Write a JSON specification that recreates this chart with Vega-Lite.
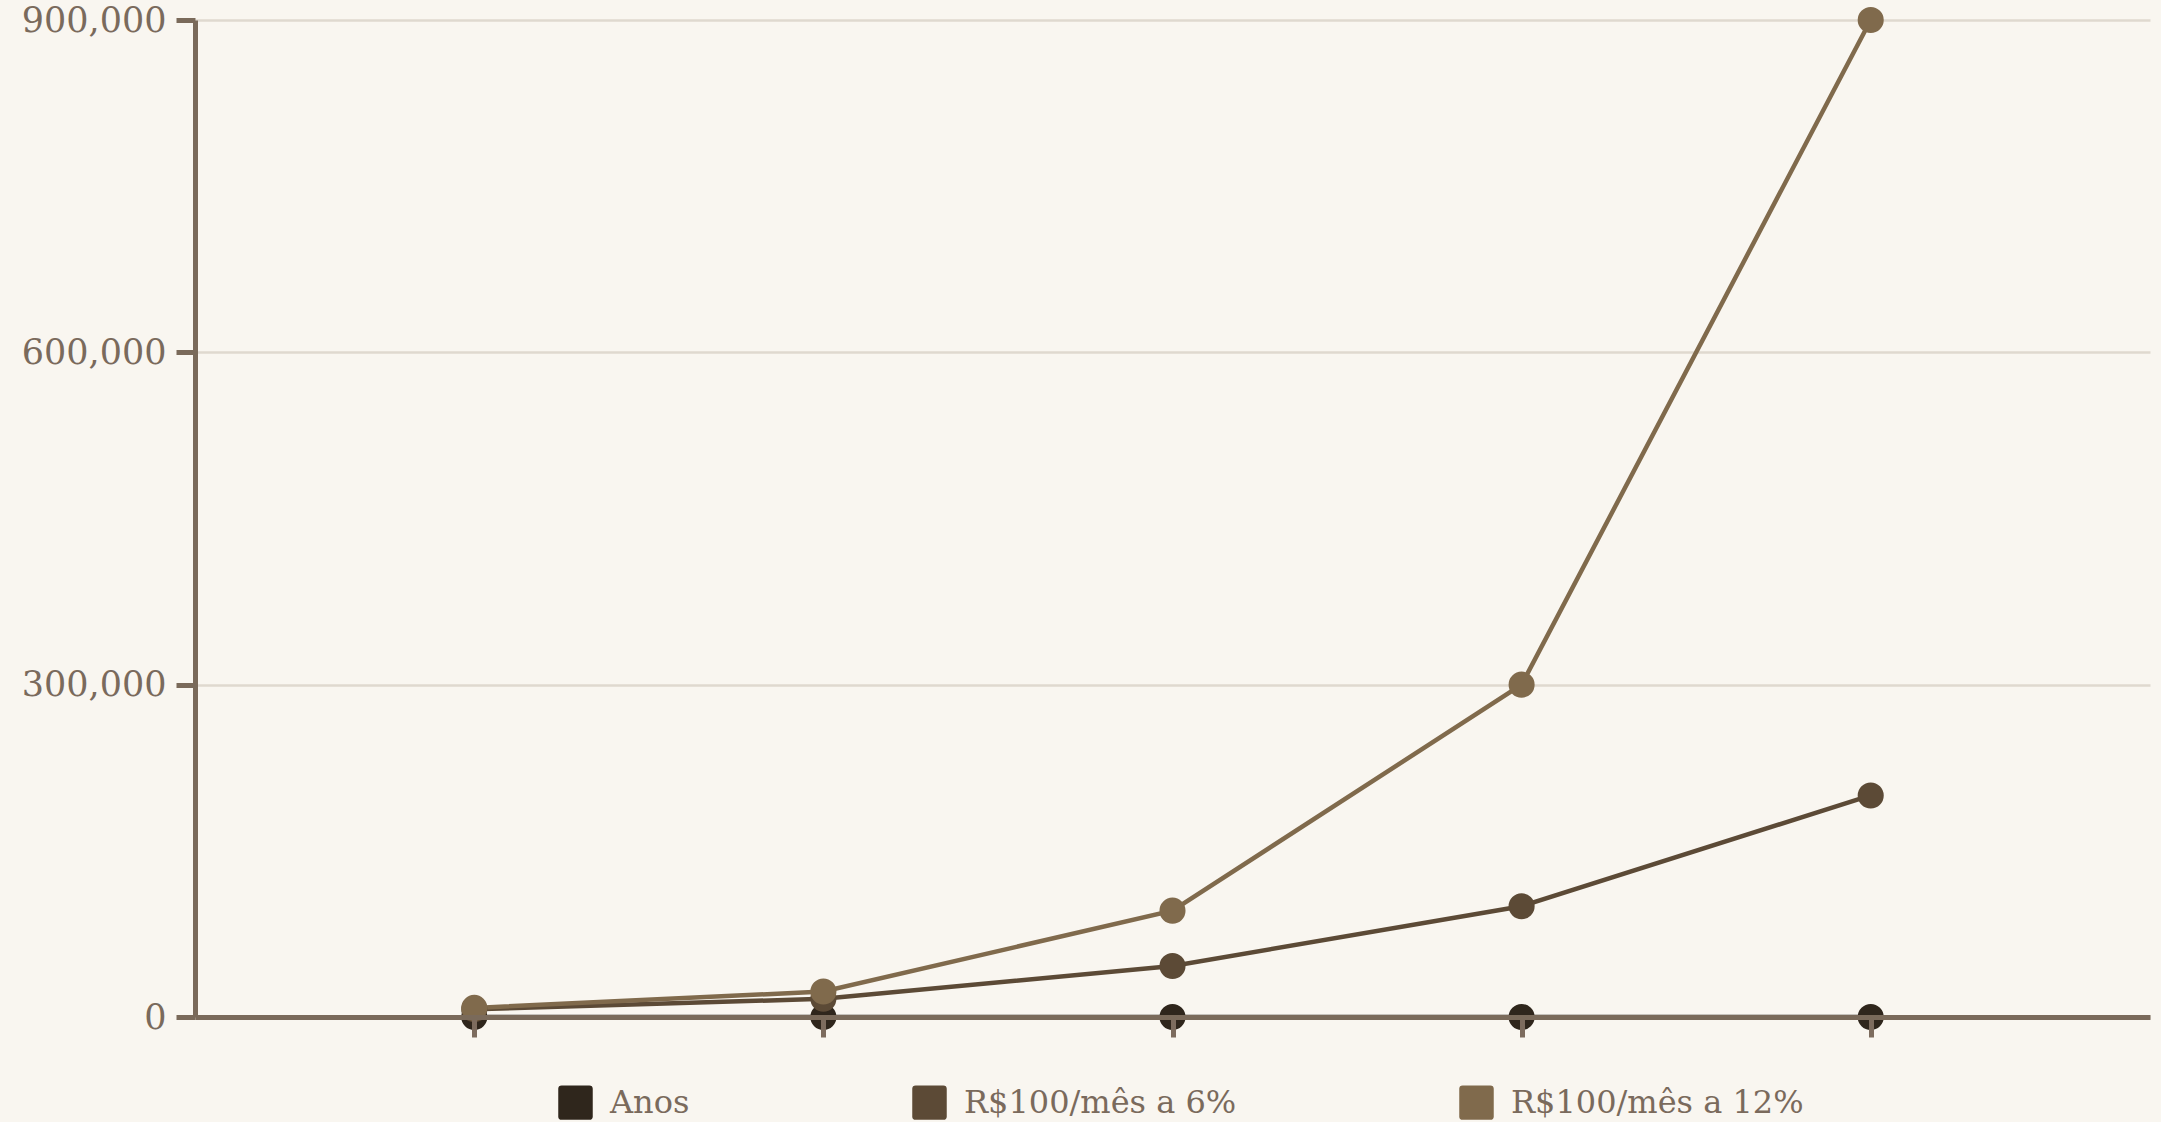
{
  "$schema": "https://vega.github.io/schema/vega-lite/v6.json",
  "width": 1955,
  "height": 997,
  "autosize": {"type": "none"},
  "padding": {"left": 195, "top": 20, "right": 11, "bottom": 105},
  "background": "#f9f6f0",
  "config": {"view": {"stroke": null}, "font": "DejaVu Serif"},
  "data": {
    "values": [
      {"ponto": 1, "serie": "Anos", "valor": 5},
      {"ponto": 2, "serie": "Anos", "valor": 10},
      {"ponto": 3, "serie": "Anos", "valor": 20},
      {"ponto": 4, "serie": "Anos", "valor": 30},
      {"ponto": 5, "serie": "Anos", "valor": 40},
      {"ponto": 1, "serie": "R$100/mês a 6%", "valor": 7000},
      {"ponto": 2, "serie": "R$100/mês a 6%", "valor": 16400},
      {"ponto": 3, "serie": "R$100/mês a 6%", "valor": 46000},
      {"ponto": 4, "serie": "R$100/mês a 6%", "valor": 100000},
      {"ponto": 5, "serie": "R$100/mês a 6%", "valor": 200000},
      {"ponto": 1, "serie": "R$100/mês a 12%", "valor": 8200},
      {"ponto": 2, "serie": "R$100/mês a 12%", "valor": 23000},
      {"ponto": 3, "serie": "R$100/mês a 12%", "valor": 96000},
      {"ponto": 4, "serie": "R$100/mês a 12%", "valor": 300000},
      {"ponto": 5, "serie": "R$100/mês a 12%", "valor": 900000}
    ]
  },
  "encoding": {
    "x": {
      "field": "ponto",
      "type": "ordinal",
      "scale": {"type": "point", "padding": 0.8},
      "axis": {
        "labels": false,
        "title": null,
        "grid": false,
        "domainColor": "#7a6a5a",
        "domainWidth": 5,
        "tickColor": "#7d6c5e",
        "tickWidth": 5,
        "tickSize": 20,
        "zindex": 1
      }
    },
    "y": {
      "field": "valor",
      "type": "quantitative",
      "scale": {"domain": [0, 900000], "nice": false},
      "axis": {
        "values": [0, 300000, 600000, 900000],
        "format": ",.0f",
        "title": null,
        "grid": true,
        "gridColor": "#dfd9cf",
        "gridWidth": 2.5,
        "domainColor": "#7a6a5a",
        "domainWidth": 5,
        "tickColor": "#7a6a5a",
        "tickWidth": 5,
        "tickSize": 19,
        "labelFont": "DejaVu Serif",
        "labelFontSize": 35,
        "labelColor": "#7a6a5c",
        "labelPadding": 10,
        "zindex": 0
      }
    },
    "color": {
      "field": "serie",
      "type": "nominal",
      "scale": {
        "domain": ["Anos", "R$100/mês a 6%", "R$100/mês a 12%"],
        "range": ["#2f261c", "#5c4a36", "#806a4c"]
      },
      "legend": {
        "title": null,
        "orient": "none",
        "legendX": 363,
        "legendY": 1065,
        "direction": "horizontal",
        "symbolType": "M-0.8,-1H0.8Q1,-1 1,-0.8V0.8Q1,1 0.8,1H-0.8Q-1,1 -1,0.8V-0.8Q-1,-1 -0.8,-1Z",
        "symbolSize": 1190,
        "symbolStrokeWidth": 0,
        "symbolOpacity": 1,
        "labelFont": "DejaVu Serif",
        "labelFontSize": 32,
        "labelColor": "#7a6a5c",
        "labelLimit": 0,
        "labelOffset": 17,
        "columnPadding": 222,
        "padding": 0
      }
    }
  },
  "layer": [
    {"mark": {"type": "line", "strokeWidth": 4.5}},
    {"mark": {"type": "point", "filled": true, "size": 680, "opacity": 1, "strokeWidth": 0}}
  ]
}
